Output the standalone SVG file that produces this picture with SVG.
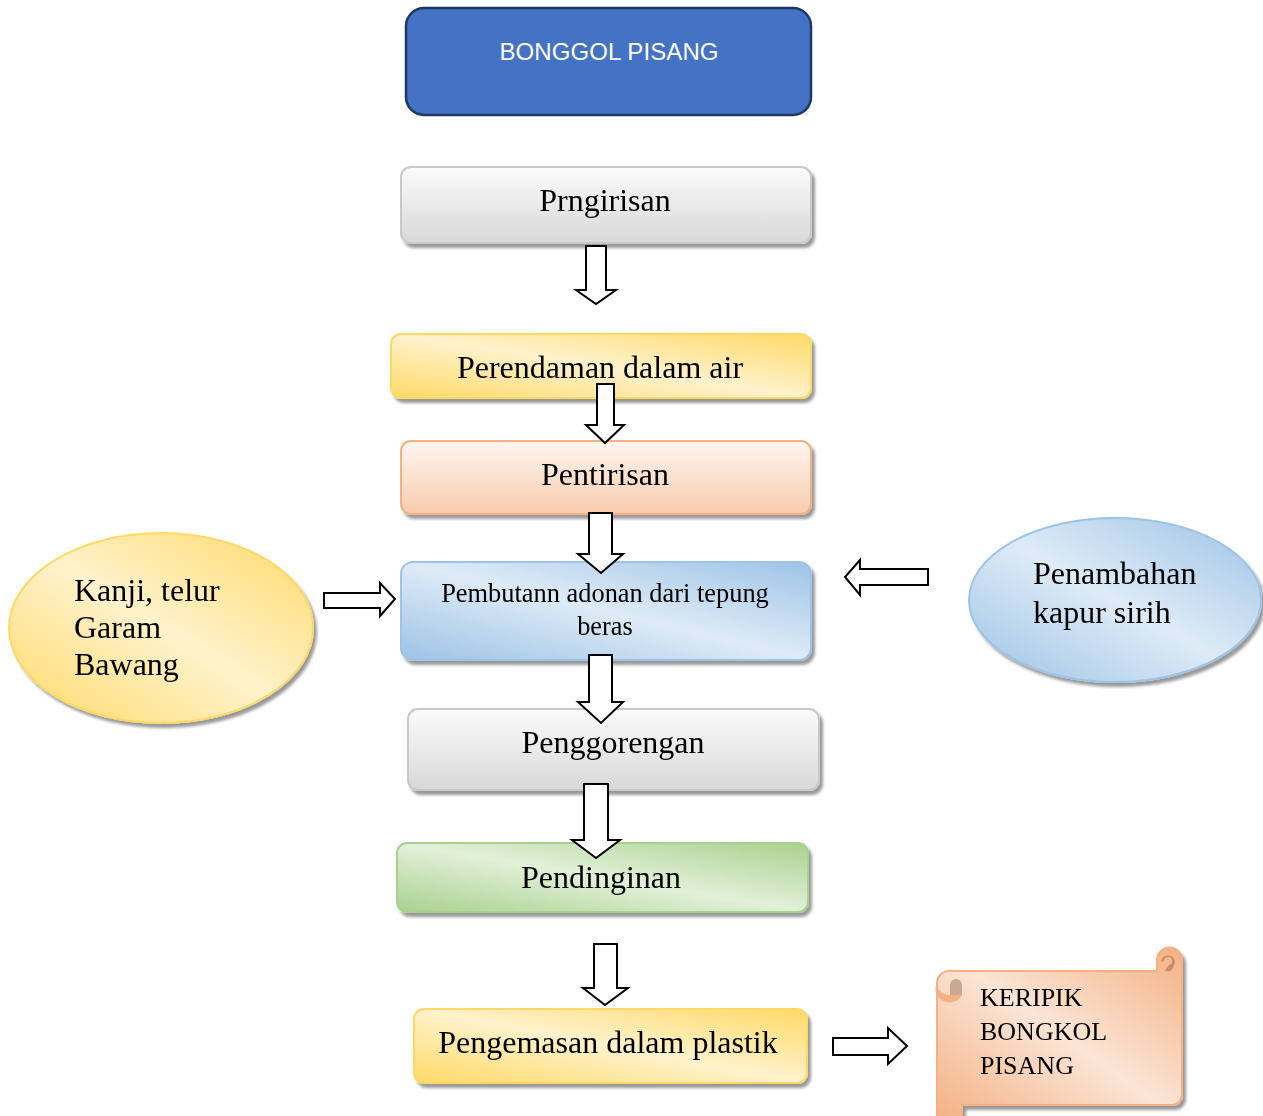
<svg xmlns="http://www.w3.org/2000/svg" width="1263" height="1116" viewBox="0 0 1263 1116">
<defs>
<filter id="sh" x="-10%" y="-20%" width="120%" height="150%">
<feGaussianBlur in="SourceAlpha" stdDeviation="1.8"/>
<feOffset dx="3" dy="4" result="b"/>
<feComponentTransfer><feFuncA type="linear" slope="0.4"/></feComponentTransfer>
<feMerge><feMergeNode/><feMergeNode in="SourceGraphic"/></feMerge>
</filter>
<linearGradient id="gGray" x1="0" y1="0" x2="0" y2="1">
<stop offset="0" stop-color="#FBFBFB"/><stop offset="1" stop-color="#D8D8D8"/>
</linearGradient>
<linearGradient id="gYel" x1="0" y1="1" x2="1" y2="0">
<stop offset="0" stop-color="#FFD966"/><stop offset="0.5" stop-color="#FFF2CC"/><stop offset="1" stop-color="#FFD966"/>
</linearGradient>
<linearGradient id="gOr" x1="0" y1="0" x2="0" y2="1">
<stop offset="0" stop-color="#FEF6F1"/><stop offset="1" stop-color="#F8CBAD"/>
</linearGradient>
<linearGradient id="gBlue" x1="0" y1="1" x2="1" y2="0">
<stop offset="0" stop-color="#9DC3E6"/><stop offset="0.5" stop-color="#DEEBF7"/><stop offset="1" stop-color="#9DC3E6"/>
</linearGradient>
<linearGradient id="gGreen" x1="0" y1="1" x2="1" y2="0">
<stop offset="0" stop-color="#A9D18E"/><stop offset="0.5" stop-color="#E2F0D9"/><stop offset="1" stop-color="#A9D18E"/>
</linearGradient>
<linearGradient id="gScroll" x1="0" y1="1" x2="1" y2="0">
<stop offset="0" stop-color="#F4B183"/><stop offset="0.5" stop-color="#FBE5D6"/><stop offset="1" stop-color="#F4B183"/>
</linearGradient>
<style>
.t{font-family:"Liberation Serif","Times New Roman",serif;fill:#000;}
.c{text-anchor:middle;}
.ar{fill:#fff;stroke:#000;stroke-width:2;stroke-linejoin:miter;}
</style>
</defs>

<g id="n-bonggol">
<rect x="406" y="8" width="405" height="107" rx="18" fill="#4472C4" stroke="#1F3864" stroke-width="2.5"/>
<text x="609" y="60" font-family="'Liberation Sans',Arial,sans-serif" font-size="24" fill="#fff" text-anchor="middle" textLength="219">BONGGOL PISANG</text>
</g>

<g id="n-prngirisan" filter="url(#sh)">
<rect x="401" y="167" width="410" height="76" rx="10" fill="url(#gGray)" stroke="#C9C9C9" stroke-width="2"/>
<text class="t c" x="605" y="211" font-size="32">Prngirisan</text>
</g>

<g id="n-perendaman" filter="url(#sh)">
<rect x="391" y="334" width="420" height="64" rx="10" fill="url(#gYel)" stroke="#FFD966" stroke-width="2"/>
<text class="t c" x="600" y="378" font-size="32">Perendaman dalam air</text>
</g>

<g id="n-pentirisan" filter="url(#sh)">
<rect x="401" y="441" width="410" height="73" rx="10" fill="url(#gOr)" stroke="#F4B183" stroke-width="2"/>
<text class="t c" x="605" y="485" font-size="32">Pentirisan</text>
</g>

<g id="n-pembutann" filter="url(#sh)">
<rect x="401" y="562" width="410" height="98" rx="12" fill="url(#gBlue)" stroke="#9DC3E6" stroke-width="2"/>
<text class="t c" x="605" y="602" font-size="26.4">Pembutann adonan dari tepung</text>
<text class="t c" x="605" y="635" font-size="26.4">beras</text>
</g>

<g id="n-penggorengan" filter="url(#sh)">
<rect x="408" y="709" width="411" height="81" rx="10" fill="url(#gGray)" stroke="#C9C9C9" stroke-width="2"/>
<text class="t c" x="613" y="753" font-size="32">Penggorengan</text>
</g>

<g id="n-pendinginan" filter="url(#sh)">
<rect x="397" y="843" width="411" height="69" rx="10" fill="url(#gGreen)" stroke="#A9D18E" stroke-width="2"/>
<text class="t c" x="601" y="888" font-size="32">Pendinginan</text>
</g>

<g id="n-pengemasan" filter="url(#sh)">
<rect x="414" y="1009" width="393" height="74" rx="10" fill="url(#gYel)" stroke="#FFD966" stroke-width="2"/>
<text class="t c" x="608" y="1053" font-size="32">Pengemasan dalam plastik</text>
</g>

<g id="n-kanji" filter="url(#sh)">
<ellipse cx="161" cy="628" rx="152" ry="95" fill="url(#gYel)" stroke="#FFD966" stroke-width="2"/>
<text class="t" x="74" y="601" font-size="32">Kanji, telur</text>
<text class="t" x="74" y="638" font-size="32">Garam</text>
<text class="t" x="74" y="675" font-size="32">Bawang</text>
</g>

<g id="n-kapur" filter="url(#sh)">
<ellipse cx="1115" cy="600" rx="146" ry="82" fill="url(#gBlue)" stroke="#9DC3E6" stroke-width="2"/>
<text class="t" x="1033" y="584" font-size="32">Penambahan</text>
<text class="t" x="1033" y="623" font-size="32">kapur sirih</text>
</g>

<g id="n-keripik" filter="url(#sh)">
<path d="M949 971 H1157 V960 A12.5 12.5 0 0 1 1182 960 V1095 A10 10 0 0 1 1172 1105 H962 V1120 H937 V983 A12 12 0 0 1 949 971 Z" fill="url(#gScroll)" stroke="#F4B183" stroke-width="2"/>
<path d="M1161 962 A7 7 0 1 1 1175 963 Q1173 968 1171 971 H1165 Q1167 967 1169 965 A4 4 0 1 0 1164 961 Z" fill="#C58C66"/>
<path d="M937 983 A12.5 12 0 0 0 962 983 V995 A12.5 12 0 0 1 937 983 Z" fill="#F4B183"/>
<path d="M950 995 V985 A6 6 0 0 1 962 985 V995 Z" fill="#C9A894"/>
<text class="t" x="980" y="1006" font-size="26">KERIPIK</text>
<text class="t" x="980" y="1040" font-size="26">BONGKOL</text>
<text class="t" x="980" y="1074" font-size="26">PISANG</text>
</g>

<g id="connectors">
<polygon class="ar" points="586,246 606,246 606,290 616,290 596,304 576,290 586,290"/>
<polygon class="ar" points="597,384 614,384 614,425 624,425 605,443 586,425 597,425"/>
<polygon class="ar" points="589,513 612,513 612,554 623,554 601,573 578,554 589,554"/>
<polygon class="ar" points="589,655 612,655 612,702 623,702 601,723 578,702 589,702"/>
<polygon class="ar" points="584,784 608,784 608,840 620,840 596,858 572,840 584,840"/>
<polygon class="ar" points="594,944 617,944 617,988 628,988 605,1005 583,988 594,988"/>
<polygon class="ar" points="324,593 380,593 380,583 395,599 380,616 380,608 324,608"/>
<polygon class="ar" points="928,569 860,569 860,560 845,577 860,595 860,585 928,585"/>
<polygon class="ar" points="833,1038 888,1038 888,1028 907,1046 888,1064 888,1055 833,1055"/>
</g>
</svg>
